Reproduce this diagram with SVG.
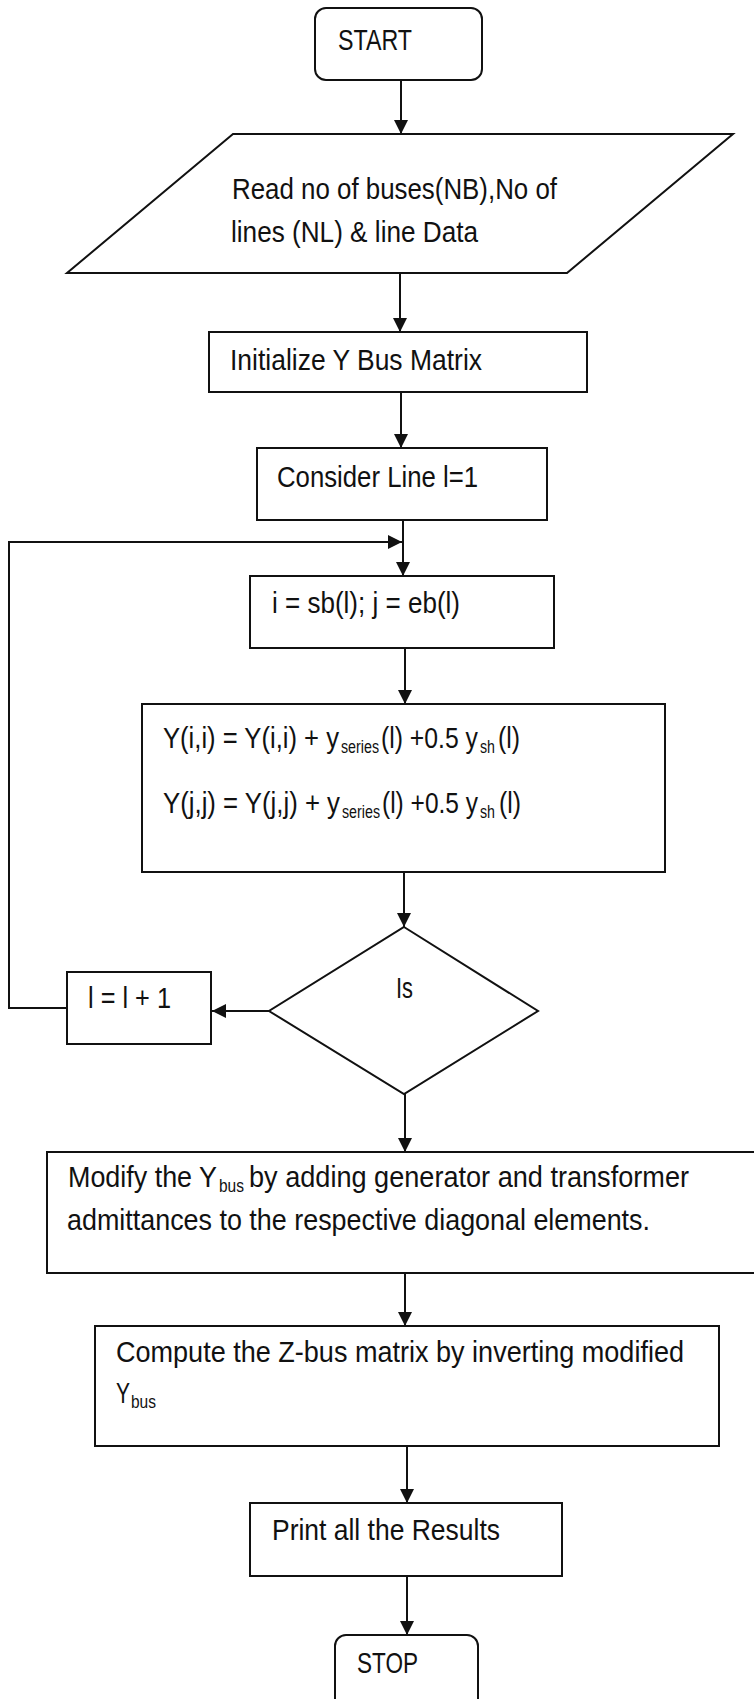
<svg xmlns="http://www.w3.org/2000/svg" width="754" height="1699" viewBox="0 0 754 1699">
  <style>
    .box { fill: #fff; stroke: #111; stroke-width: 2; }
    .lbl { font-family: "Liberation Sans", Arial, sans-serif; font-size: 29px; fill: #111; }
    .sub { font-size: 18px; }
    .wire { fill: none; stroke: #111; stroke-width: 2; }
  </style>
  <defs>
    <marker id="arrow" viewBox="0 0 14 14" refX="14" refY="7" markerWidth="14" markerHeight="14" markerUnits="userSpaceOnUse" orient="auto">
      <path d="M0,0 L14,7 L0,14 Z" fill="#111"/>
    </marker>
  </defs>

  <rect width="754" height="1699" fill="#fff"/>

  <!-- connectors -->
  <g id="connectors">
    <line class="wire" x1="401" y1="80" x2="401" y2="134" marker-end="url(#arrow)"/>
    <line class="wire" x1="400" y1="273" x2="400" y2="332" marker-end="url(#arrow)"/>
    <line class="wire" x1="401" y1="392" x2="401" y2="448" marker-end="url(#arrow)"/>
    <line class="wire" x1="403" y1="517" x2="403" y2="576" marker-end="url(#arrow)"/>
    <line class="wire" x1="405" y1="646" x2="405" y2="704" marker-end="url(#arrow)"/>
    <line class="wire" x1="404" y1="872" x2="404" y2="927" marker-end="url(#arrow)"/>
    <line class="wire" x1="269" y1="1011" x2="212" y2="1011" marker-end="url(#arrow)"/>
    <polyline class="wire" points="66,1008 9,1008 9,542 402,542" marker-end="url(#arrow)"/>
    <line class="wire" x1="405" y1="1094" x2="405" y2="1152" marker-end="url(#arrow)"/>
    <line class="wire" x1="405" y1="1270" x2="405" y2="1326" marker-end="url(#arrow)"/>
    <line class="wire" x1="407" y1="1446" x2="407" y2="1503" marker-end="url(#arrow)"/>
    <line class="wire" x1="407" y1="1576" x2="407" y2="1635" marker-end="url(#arrow)"/>
  </g>

  <g id="start">
    <rect class="box" x="315" y="8" width="167" height="72" rx="11"/>
    <text class="lbl" x="338" y="50" textLength="74" lengthAdjust="spacingAndGlyphs">START</text>
  </g>

  <g id="read-data">
    <polygon class="box" points="233,134 733,134 567,273 67,273"/>
    <text class="lbl" x="232" y="199" textLength="325" lengthAdjust="spacingAndGlyphs">Read no of buses(NB),No of</text>
    <text class="lbl" x="231" y="242" textLength="247" lengthAdjust="spacingAndGlyphs">lines (NL) &amp; line Data</text>
  </g>

  <g id="init-ybus">
    <rect class="box" x="209" y="332" width="378" height="60"/>
    <text class="lbl" x="230" y="370" textLength="252" lengthAdjust="spacingAndGlyphs">Initialize Y Bus Matrix</text>
  </g>

  <g id="line-one">
    <rect class="box" x="257" y="448" width="290" height="72"/>
    <text class="lbl" x="277" y="487" textLength="201" lengthAdjust="spacingAndGlyphs">Consider Line l=1</text>
  </g>

  <g id="bus-index">
    <rect class="box" x="250" y="576" width="304" height="72"/>
    <text class="lbl" x="272" y="613" textLength="188" lengthAdjust="spacingAndGlyphs">i = sb(l); j = eb(l)</text>
  </g>

  <g id="diag-update">
    <rect class="box" x="142" y="704" width="523" height="168"/>
    <text class="lbl" y="748"><tspan x="163" textLength="176" lengthAdjust="spacingAndGlyphs">Y(i,i) = Y(i,i) + y</tspan><tspan class="sub" x="341" dy="5" textLength="38" lengthAdjust="spacingAndGlyphs">series</tspan><tspan x="381" dy="-5" textLength="97" lengthAdjust="spacingAndGlyphs">(l) +0.5 y</tspan><tspan class="sub" x="480" dy="5" textLength="15" lengthAdjust="spacingAndGlyphs">sh</tspan><tspan x="498" dy="-5" textLength="22" lengthAdjust="spacingAndGlyphs">(l)</tspan></text>
    <text class="lbl" y="813"><tspan x="163" textLength="177" lengthAdjust="spacingAndGlyphs">Y(j,j) = Y(j,j) + y</tspan><tspan class="sub" x="342" dy="5" textLength="38" lengthAdjust="spacingAndGlyphs">series</tspan><tspan x="382" dy="-5" textLength="96" lengthAdjust="spacingAndGlyphs">(l) +0.5 y</tspan><tspan class="sub" x="480" dy="5" textLength="15" lengthAdjust="spacingAndGlyphs">sh</tspan><tspan x="499" dy="-5" textLength="22" lengthAdjust="spacingAndGlyphs">(l)</tspan></text>
  </g>

  <g id="last-line-check">
    <polygon class="box" points="404,927 538,1011 404,1094 269,1011"/>
    <text class="lbl" x="396" y="998" textLength="17" lengthAdjust="spacingAndGlyphs">Is</text>
  </g>

  <g id="next-line">
    <rect class="box" x="67" y="972" width="144" height="72"/>
    <text class="lbl" x="88" y="1008" textLength="83" lengthAdjust="spacingAndGlyphs">l = l + 1</text>
  </g>

  <g id="modify-ybus">
    <rect class="box" x="47" y="1152" width="730" height="121"/>
    <text class="lbl" y="1187"><tspan x="68" textLength="149" lengthAdjust="spacingAndGlyphs">Modify the Y</tspan><tspan class="sub" x="219" dy="5" textLength="25" lengthAdjust="spacingAndGlyphs">bus</tspan><tspan x="249" dy="-5" textLength="440" lengthAdjust="spacingAndGlyphs">by adding generator and transformer</tspan></text>
    <text class="lbl" x="67" y="1230" textLength="583" lengthAdjust="spacingAndGlyphs">admittances to the respective diagonal elements.</text>
  </g>

  <g id="zbus">
    <rect class="box" x="95" y="1326" width="624" height="120"/>
    <text class="lbl" x="116" y="1362" textLength="568" lengthAdjust="spacingAndGlyphs">Compute the Z-bus matrix by inverting modified</text>
    <text class="lbl" y="1403"><tspan x="116" textLength="14" lengthAdjust="spacingAndGlyphs">Y</tspan><tspan class="sub" x="131" dy="5" textLength="25" lengthAdjust="spacingAndGlyphs">bus</tspan></text>
  </g>

  <g id="print">
    <rect class="box" x="250" y="1503" width="312" height="73"/>
    <text class="lbl" x="272" y="1540" textLength="228" lengthAdjust="spacingAndGlyphs">Print all the Results</text>
  </g>

  <g id="stop">
    <rect class="box" x="335" y="1635" width="143" height="90" rx="11"/>
    <text class="lbl" x="357" y="1673" textLength="61" lengthAdjust="spacingAndGlyphs">STOP</text>
  </g>
</svg>
